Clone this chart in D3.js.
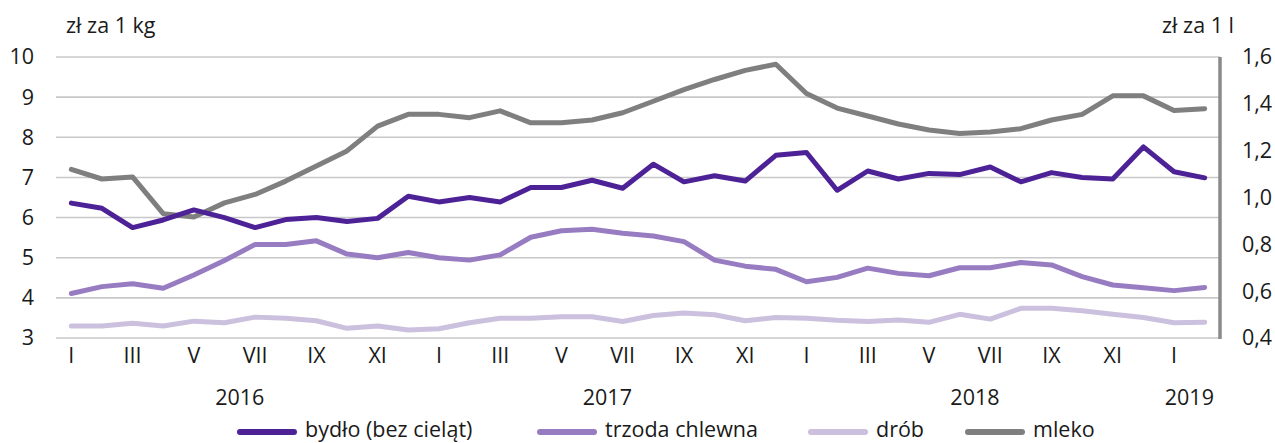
<!DOCTYPE html>
<html><head><meta charset="utf-8">
<script src="https://cdn.jsdelivr.net/npm/d3@7"></script>
<style>body{margin:0;background:#fff}svg{display:block}text{font-family:"Open Sans",sans-serif;fill:#1a1a1a}</style>
</head><body><svg id="c" width="1275" height="443"></svg>
<script>
const months = ["I","II","III","IV","V","VI","VII","VIII","IX","X","XI","XII"];
const categories = [];
for (let y = 2016; y <= 2019; y++) for (let m = 0; m < 12; m++) { if (y === 2019 && m > 1) break; categories.push(y + "-" + (m+1)); }
const monthLabels = categories.map(c => months[+c.split("-")[1]-1]);
const years = ["2016","2017","2018","2019"];
const leftTicks = [3,4,5,6,7,8,9,10];
const rightTicks = [0.4,0.6,0.8,1.0,1.2,1.4,1.6];
const bydlo = [6.36,6.23,5.75,5.94,6.19,6.0,5.75,5.95,6.0,5.90,5.98,6.53,6.39,6.50,6.39,6.75,6.75,6.93,6.73,7.33,6.89,7.04,6.91,7.55,7.62,6.68,7.16,6.96,7.10,7.07,7.26,6.89,7.12,7.0,6.96,7.76,7.14,6.99];
const trzoda = [4.11,4.28,4.35,4.24,4.57,4.93,5.33,5.33,5.42,5.09,5.0,5.13,5.0,4.94,5.07,5.51,5.67,5.71,5.61,5.54,5.40,4.94,4.79,4.71,4.40,4.51,4.74,4.61,4.55,4.75,4.75,4.88,4.82,4.53,4.32,4.25,4.18,4.26];
const drob = [3.30,3.30,3.37,3.30,3.42,3.38,3.52,3.49,3.43,3.24,3.30,3.20,3.23,3.38,3.49,3.49,3.53,3.53,3.41,3.56,3.62,3.58,3.43,3.51,3.49,3.44,3.41,3.45,3.39,3.59,3.47,3.74,3.74,3.68,3.59,3.51,3.38,3.39];
const mleko = [1.120,1.079,1.088,0.931,0.917,0.977,1.013,1.070,1.135,1.199,1.305,1.355,1.355,1.341,1.370,1.319,1.319,1.331,1.362,1.411,1.461,1.504,1.543,1.569,1.444,1.382,1.348,1.314,1.288,1.273,1.280,1.294,1.331,1.355,1.434,1.434,1.372,1.379];
const seriesNames = ["bydło (bez cieląt)","trzoda chlewna","drób","mleko"];
const colors = ["#4e2297","#977cc2","#cbc0dd","#7f7f7f"];

const FS = 21.5;
const FONT = "Open Sans";
const svg = d3.select("#c");
const L = 56, R = 1220, T = 57, B = 338;
const x = d3.scaleBand().domain(categories).range([L, R]);
const xc = c => x(c) + x.bandwidth()/2;
const yL = d3.scaleLinear().domain([3,10]).range([B, T]);
const yR = d3.scaleLinear().domain([0.4,1.6]).range([B, T]);

// gridlines
svg.append("g").selectAll("line").data(leftTicks).join("line")
  .attr("x1", L).attr("x2", R).attr("y1", d => yL(d)).attr("y2", d => yL(d))
  .attr("stroke", "#c8c8c8").attr("stroke-width", 1.6);

function styleText(g){ g.selectAll("text").attr("font-size", FS).attr("font-family", FONT).attr("fill", "#1a1a1a"); }

// left axis
const gl = svg.append("g").attr("transform", `translate(${L},0)`)
  .call(d3.axisLeft(yL).tickValues(leftTicks).tickSize(0).tickPadding(22).tickFormat(d3.format("d")));
gl.select(".domain").remove(); styleText(gl);

// right axis
const gr = svg.append("g").attr("transform", `translate(${R},0)`)
  .call(d3.axisRight(yR).tickValues(rightTicks).tickSize(0).tickPadding(22).tickFormat(d => d3.format(".1f")(d).replace(".", ",")));
gr.select(".domain").remove(); styleText(gr);
svg.append("line").attr("x1", R).attr("x2", R).attr("y1", T).attr("y2", B+1)
  .attr("stroke", "#8a8a8a").attr("stroke-width", 3.5);

// x axis labels
const gx = svg.append("g").attr("transform", `translate(0,${B})`)
  .call(d3.axisBottom(x).tickSize(0).tickPadding(10)
    .tickValues(categories.filter((c,i) => i % 2 === 0))
    .tickFormat(c => monthLabels[categories.indexOf(c)]));
gx.select(".domain").remove(); styleText(gx);

// year labels
svg.append("g").selectAll("text").data(years).join("text")
  .attr("x", yr => { const cs = categories.filter(c => c.startsWith(yr)); return (xc(cs[0]) + xc(cs[cs.length-1]))/2; })
  .attr("y", 405).attr("text-anchor", "middle").attr("font-size", FS).text(d => d);

// units
svg.append("text").attr("x", 66).attr("y", 33).attr("font-size", FS).text("zł za 1 kg");
svg.append("text").attr("x", 1234).attr("y", 33).attr("text-anchor", "end").attr("font-size", FS).text("zł za 1 l");

// lines
const lineL = d3.line().x((d,i) => xc(categories[i])).y(d => yL(d));
const lineR = d3.line().x((d,i) => xc(categories[i])).y(d => yR(d));
[[drob, lineL, 2], [trzoda, lineL, 1], [mleko, lineR, 3], [bydlo, lineL, 0]].forEach(([vals, gen, ci]) => {
  svg.append("path").attr("d", gen(vals)).attr("fill", "none").attr("stroke", colors[ci])
    .attr("stroke-width", 5).attr("stroke-linejoin", "round").attr("stroke-linecap", "round");
});

// legend
const legX = [240, 540, 811, 968];
const lg = svg.append("g").selectAll("g").data(seriesNames).join("g")
  .attr("transform", (d,i) => `translate(${legX[i]},432)`);
lg.append("line").attr("x1", 0).attr("x2", 54).attr("stroke", (d,i) => colors[i])
  .attr("stroke-width", 6).attr("stroke-linecap", "round");
lg.append("text").attr("x", 65).attr("y", 5).attr("font-size", FS).text(d => d);
</script></body></html>
